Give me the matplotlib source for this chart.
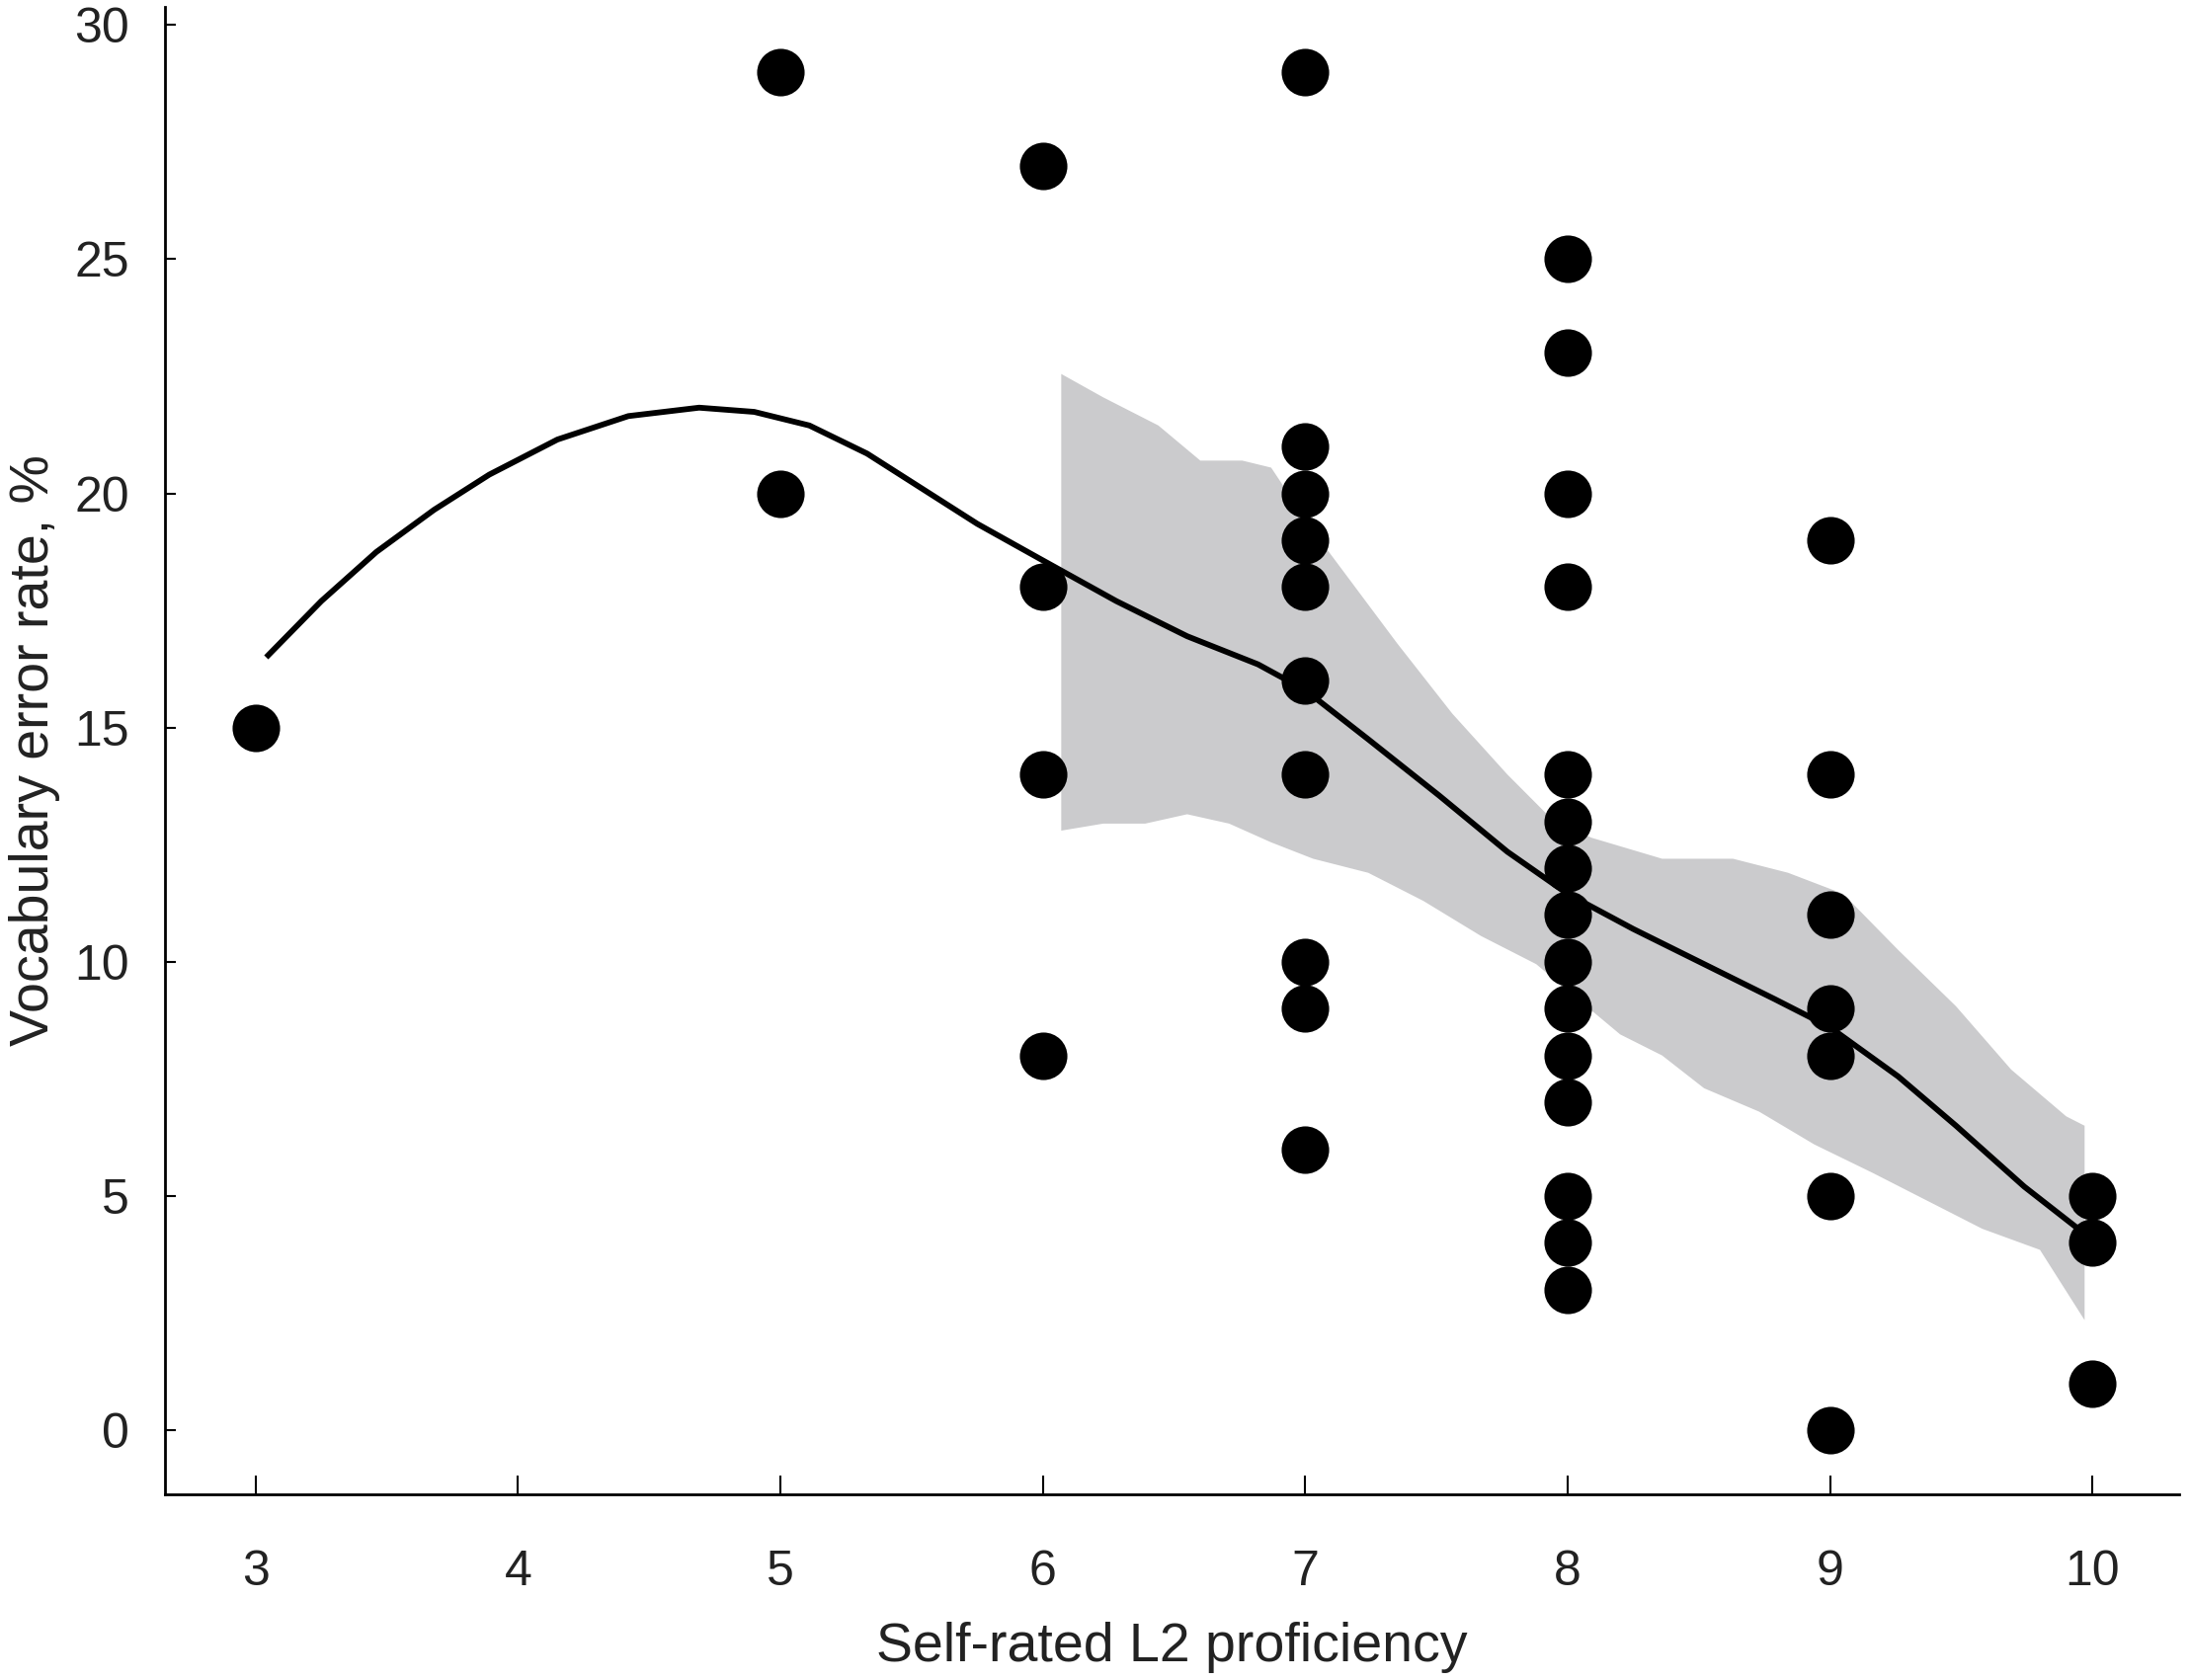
import numpy as np
import matplotlib.pyplot as plt

# observed points: self-rated proficiency vs vocabulary error rate (%)
prof = [3,
        5, 5,
        6, 6, 6, 6,
        7, 7, 7, 7, 7, 7, 7, 7, 7, 7,
        8, 8, 8, 8, 8, 8, 8, 8, 8, 8, 8, 8, 8, 8, 8,
        9, 9, 9, 9, 9, 9, 9,
        10, 10, 10]
err = [15,
       29, 20,
       27, 18, 14, 8,
       29, 21, 20, 19, 18, 16, 14, 10, 9, 6,
       25, 23, 20, 18, 14, 13, 12, 11, 10, 9, 8, 7, 5, 4, 3,
       19, 14, 11, 9, 8, 5, 0,
       5, 4, 1]

# smoothed fit line
fit_x = [3.04, 3.25, 3.46, 3.68, 3.89, 4.15, 4.42, 4.69, 4.90, 5.11, 5.33, 5.54,
         5.75, 5.99, 6.28, 6.55, 6.82, 7.0, 7.24, 7.51, 7.77, 8.0, 8.25, 8.52,
         8.79, 9.0, 9.26, 9.48, 9.74, 9.98]
fit_y = [16.5, 17.7, 18.75, 19.65, 20.4, 21.15, 21.65, 21.83, 21.74, 21.45, 20.85, 20.1,
         19.35, 18.6, 17.7, 16.95, 16.35, 15.8, 14.75, 13.55, 12.35, 11.45, 10.7, 9.95,
         9.2, 8.6, 7.55, 6.5, 5.2, 4.15]

# confidence band edges
up_x = [6.07, 6.23, 6.44, 6.60, 6.76, 6.87, 7.03, 7.19, 7.35, 7.56, 7.77, 7.93,
        8.09, 8.36, 8.63, 8.84, 9.05, 9.26, 9.48, 9.69, 9.90, 9.97]
up_y = [22.55, 22.05, 21.45, 20.7, 20.7, 20.55, 19.2, 18.0, 16.8, 15.3, 14.0, 13.1,
        12.65, 12.2, 12.2, 11.9, 11.45, 10.25, 9.05, 7.7, 6.7, 6.5]
lo_x = [6.07, 6.23, 6.39, 6.55, 6.71, 6.87, 7.03, 7.24, 7.45, 7.67, 7.88, 8.04,
        8.20, 8.36, 8.52, 8.73, 8.94, 9.16, 9.37, 9.58, 9.80, 9.97]
lo_y = [12.8, 12.95, 12.95, 13.15, 12.95, 12.55, 12.2, 11.9, 11.3, 10.55, 9.95, 9.2,
        8.45, 8.0, 7.3, 6.8, 6.1, 5.5, 4.9, 4.3, 3.85, 2.35]

x_ticks = [3, 4, 5, 6, 7, 8, 9, 10]
y_ticks = [0, 5, 10, 15, 20, 25, 30]

plt.rcParams['font.family'] = ['Liberation Sans', 'DejaVu Sans']

fig = plt.figure(figsize=(22.17, 17.01), dpi=100)
ax = fig.add_axes([0.0753, 0.1105, 0.9197, 0.8855])

ax.fill(np.concatenate([up_x, lo_x[::-1]]), np.concatenate([up_y, lo_y[::-1]]),
        color='#cbcbcd', lw=0, zorder=1)
ax.plot(fit_x, fit_y, color='black', lw=4.2, solid_joinstyle='round',
        solid_capstyle='butt', zorder=2)
ax.scatter(prof, err, s=1200, color='black', lw=0, zorder=3)

ax.set_xlim(2.654, 10.33)
ax.set_ylim(-1.37, 30.39)
ax.set_xticks(x_ticks)
ax.set_yticks(y_ticks)

for s in ['top', 'right']:
    ax.spines[s].set_visible(False)
for s in ['left', 'bottom']:
    ax.spines[s].set_linewidth(2)

ax.tick_params(axis='x', direction='in', length=14, width=1.5, pad=40,
               labelsize=36, labelcolor='#222222')
ax.tick_params(axis='y', direction='in', length=8, width=1.5, pad=26,
               labelsize=36, labelcolor='#222222')

ax.set_xlabel('Self-rated L2 proficiency', fontsize=40, color='#222222', labelpad=20)
ax.set_ylabel('Vocabulary error rate, %', fontsize=40, color='#222222', labelpad=10)

fig.savefig('out.png', dpi=100)
